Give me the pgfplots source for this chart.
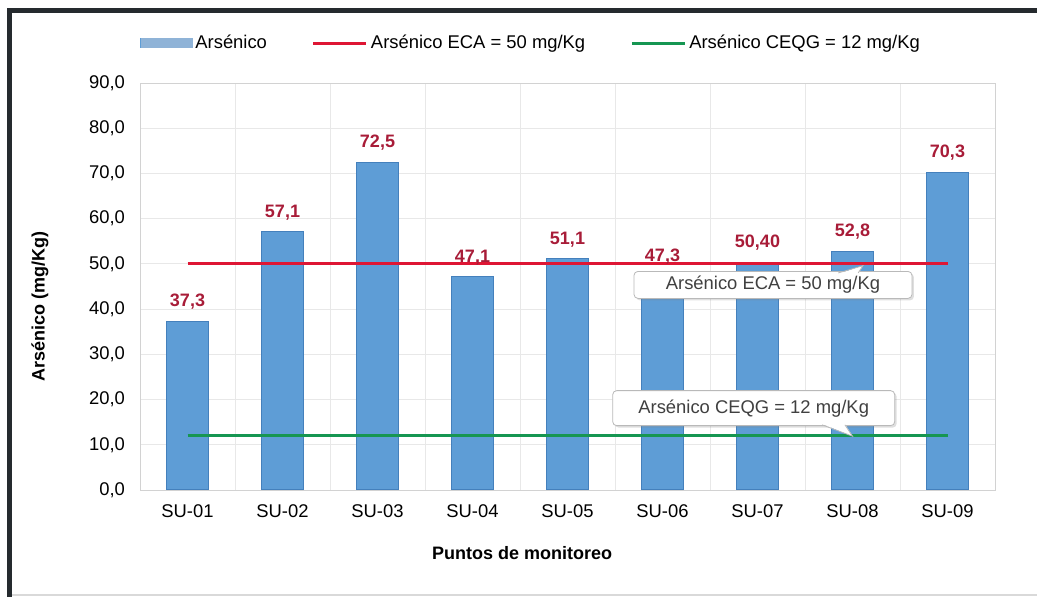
\documentclass[border=0pt]{standalone}
\usepackage{fontspec}
\setmainfont{Liberation Sans}
\usepackage{pgfplots}
\usepackage{pgfplotstable}
\pgfplotsset{compat=1.18}
\usetikzlibrary{shadows}

\definecolor{barblue}{RGB}{94,157,214}
\definecolor{baredge}{RGB}{68,128,188}
\definecolor{labred}{RGB}{168,28,56}
\definecolor{ecared}{RGB}{222,22,52}
\definecolor{ceqggreen}{RGB}{22,150,82}
\definecolor{framedark}{RGB}{37,42,46}

\pgfplotstableread{
x y lab
0 37.3 37,3
1 57.1 57,1
2 72.5 72,5
3 47.1 47,1
4 51.1 51,1
5 47.3 47,3
6 50.4 50,40
7 52.8 52,8
8 70.3 70,3
}\arsenico

\begin{document}
\begin{tikzpicture}
\path[use as bounding box] (0,0) rectangle (518.5pt,298.5pt);
\begin{axis}[
  at={(70pt,53.5pt)}, anchor=south west,
  scale only axis,
  width=427.5pt, height=203.5pt,
  xmin=-0.5, xmax=8.5,
  ymin=0, ymax=90,
  xtick={0,...,8},
  xticklabels={SU-01,SU-02,SU-03,SU-04,SU-05,SU-06,SU-07,SU-08,SU-09},
  minor xtick={0.5,1.5,...,7.5},
  ytick={0,10,...,90},
  major tick length=0pt, minor tick length=0pt,
  xminorgrids=true, ymajorgrids=true,
  grid style={gray!18},
  minor grid style={gray!18},
  axis line style={gray!35},
  ticklabel style={font=\fontsize{9.2}{11}\selectfont},
  xticklabel style={yshift=-4pt},
  yticklabel style={xshift=-4pt},
  y tick label style={/pgf/number format/.cd, fixed, fixed zerofill, precision=1, use comma, assume math mode=true},
  xlabel={Puntos de monitoreo},
  ylabel={Arsénico (mg/Kg)},
  label style={font=\bfseries\fontsize{9}{11}\selectfont},
  xlabel style={at={(axis description cs:0.447,-0.155)}, anchor=center},
  ylabel style={at={(axis description cs:-0.117,0.45)}, anchor=center},
  legend columns=3,
  legend style={at={(axis description cs:0.0,1.098)}, anchor=west, draw=none, fill=none,
    inner sep=0pt, font=\fontsize{9.2}{11}\selectfont,
    nodes={inner sep=1.5pt},
    /tikz/every even column/.append style={column sep=21pt}},
]
\addplot[ybar, bar width=21pt, fill=barblue, draw=baredge, line width=0.5pt,
  point meta=explicit symbolic,
  nodes near coords,
  nodes near coords style={font=\bfseries\fontsize{9}{11}\selectfont, text=labred, anchor=base, inner sep=0pt, yshift=7.3pt},
  legend image code/.code={\fill[barblue] (0pt,-2.25pt) rectangle (25.5pt,2.25pt);
    \draw[baredge!60, line width=0.4pt] (0pt,-2.25pt) rectangle (25.5pt,2.25pt);}
] table[x=x, y=y, meta=lab] {\arsenico};
\addlegendentry{Arsénico}

\addplot[ecared, line width=1.5pt, mark=none,
  legend image code/.code={\draw[ecared, line width=1.5pt] (0pt,0pt) -- (26.5pt,0pt);}]
  coordinates {(0,50) (8,50)};
\addlegendentry{Arsénico ECA = 50 mg/Kg}

\addplot[ceqggreen, line width=1.5pt, mark=none,
  legend image code/.code={\draw[ceqggreen, line width=1.5pt] (0pt,0pt) -- (26.5pt,0pt);}]
  coordinates {(0,12) (8,12)};
\addlegendentry{Arsénico CEQG = 12 mg/Kg}

% callouts
\node[draw=gray!55, fill=white, rounded corners=2pt, minimum width=139pt, minimum height=13.5pt,
  inner sep=0pt, text=black!75, font=\fontsize{9.2}{11}\selectfont,
  drop shadow={opacity=0.25, shadow xshift=1pt, shadow yshift=-1pt}]
  at (axis cs:6.163,45.35) {Arsénico ECA = 50 mg/Kg};
\fill[white] (axis cs:6.85,47.8) -- (axis cs:7.11,49.6) -- (axis cs:7.06,47.8) -- cycle;
\draw[gray!55, line width=0.4pt] (axis cs:6.85,48.0) -- (axis cs:7.11,49.6) -- (axis cs:7.06,48.0);

\node[draw=gray!55, fill=white, rounded corners=2pt, minimum width=141pt, minimum height=17.5pt,
  inner sep=0pt, text=black!75, font=\fontsize{9.2}{11}\selectfont,
  drop shadow={opacity=0.25, shadow xshift=1pt, shadow yshift=-1pt}]
  at (axis cs:5.96,18.1) {Arsénico CEQG = 12 mg/Kg};
\fill[white] (axis cs:6.68,14.6) -- (axis cs:7.0,11.9) -- (axis cs:6.92,14.6) -- cycle;
\draw[gray!55, line width=0.4pt] (axis cs:6.68,14.4) -- (axis cs:7.0,11.9) -- (axis cs:6.92,14.4);
\end{axis}

% outer frame
\draw[gray!30, line width=0.6pt] (4.75pt,1pt) -- (518.5pt,1pt);
\draw[framedark, line width=2.5pt] (4.75pt,0pt) -- (4.75pt,293.25pt);
\draw[framedark, line width=2.5pt] (3.5pt,293.25pt) -- (518.5pt,293.25pt);
\end{tikzpicture}
\end{document}
